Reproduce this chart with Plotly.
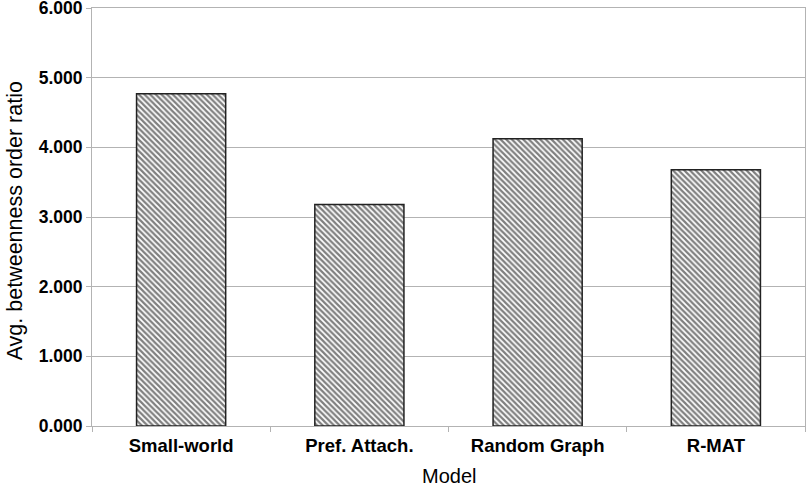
import plotly.graph_objects as go

models = ["Small-world", "Pref. Attach.", "Random Graph", "R-MAT"]
ratios = [4.768, 3.179, 4.124, 3.680]
y_ticks = [0, 1, 2, 3, 4, 5, 6]

fig = go.Figure()

fig.add_trace(go.Bar(
    x=models, y=ratios,
    marker=dict(
        color="white",
        line=dict(color="#222222", width=1.5),
        pattern=dict(shape="\\", size=4, solidity=0.55, fgcolor="black", bgcolor="white"),
    ),
    showlegend=False,
))

# axis titles as annotations so they sit where the original has them
fig.add_annotation(
    text="Avg. betweenness order ratio", textangle=-90,
    xref="paper", yref="paper", x=-0.108, y=0.492,
    xanchor="center", yanchor="middle", showarrow=False,
    borderpad=0, font=dict(size=21.5),
)
fig.add_annotation(
    text="Model",
    xref="paper", yref="paper", x=0.5, y=-0.119,
    xanchor="center", yanchor="middle", showarrow=False,
    borderpad=0, font=dict(size=20),
)

fig.update_layout(
    width=806, height=485,
    paper_bgcolor="white", plot_bgcolor="white",
    margin=dict(l=92, r=1, t=8, b=59),
    bargap=0.5,
    font=dict(family="Liberation Sans, Arial, sans-serif", color="black"),
    xaxis=dict(
        tickfont=dict(size=18.5, weight="bold"),
        ticklabelstandoff=3,
        ticks="outside", tickson="boundaries", ticklen=5, tickcolor="#b3b3b3",
        showline=True, linecolor="#b3b3b3", linewidth=1,
        mirror=True, automargin=False,
    ),
    yaxis=dict(
        range=[0, 6], tickvals=y_ticks, tickformat=".3f",
        tickfont=dict(size=17.5, weight="bold"),
        ticklabeloverflow="allow",
        showgrid=True, gridcolor="#b3b3b3", gridwidth=1,
        showline=True, linecolor="#b3b3b3", linewidth=1, mirror=True,
        ticks="outside", ticklen=5, tickcolor="#b3b3b3",
        zeroline=False, automargin=False,
    ),
)

fig.write_html("out.html", config={"displayModeBar": False},
               post_script="document.body.style.margin='0';")
